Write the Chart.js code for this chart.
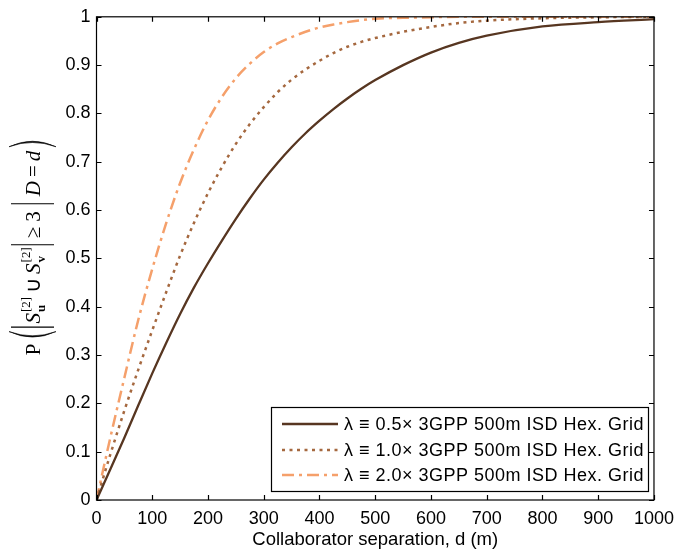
<!DOCTYPE html>
<html>
<head>
<meta charset="utf-8">
<script src="https://cdn.jsdelivr.net/npm/chart.js@4.4.1/dist/chart.umd.min.js"></script>
<style>
  html, body { margin: 0; padding: 0; background: #ffffff; }
  #wrap { width: 682px; height: 551px; }
</style>
</head>
<body>
<div id="wrap"><canvas id="c" width="682" height="551"></canvas></div>
<script>
// ---- data ----
const distances = [0, 25, 50, 75, 100, 125, 150, 175, 200, 225, 250, 275, 300, 325, 350, 375, 400, 425, 450, 475, 500, 550, 600, 650, 700, 800, 900, 1000];
const probHalf  = [0, 0.064, 0.129, 0.196, 0.262, 0.325, 0.385, 0.440, 0.490, 0.537, 0.582, 0.624, 0.663, 0.698, 0.730, 0.759, 0.785, 0.809, 0.831, 0.851, 0.869, 0.900, 0.926, 0.946, 0.961, 0.980, 0.989, 0.995];
const probOne   = [0, 0.095, 0.185, 0.270, 0.351, 0.430, 0.506, 0.574, 0.635, 0.689, 0.737, 0.778, 0.813, 0.844, 0.870, 0.891, 0.909, 0.925, 0.938, 0.948, 0.956, 0.969, 0.979, 0.987, 0.992, 0.997, 0.999, 1.000];
const probTwo   = [0, 0.130, 0.253, 0.373, 0.478, 0.573, 0.656, 0.726, 0.786, 0.834, 0.873, 0.903, 0.927, 0.945, 0.958, 0.969, 0.978, 0.984, 0.989, 0.993, 0.996, 0.998, 0.999, 1.000, 1.000, 1.000, 1.000, 1.000];
const seriesLabels = [
  "\u03bb \u2261 0.5\u00d7 3GPP 500m ISD Hex. Grid",
  "\u03bb \u2261 1.0\u00d7 3GPP 500m ISD Hex. Grid",
  "\u03bb \u2261 2.0\u00d7 3GPP 500m ISD Hex. Grid"
];
const xTicks = [0, 100, 200, 300, 400, 500, 600, 700, 800, 900, 1000];
const yTicks = [0, 0.1, 0.2, 0.3, 0.4, 0.5, 0.6, 0.7, 0.8, 0.9, 1];
const xTitle = "Collaborator separation, d (m)";

const colors = ["#573621", "#a5683f", "#f5a06b"];
const dashes = [[], [3, 4.5], [12, 5, 3, 5]];

function pts(ys) { return distances.map((d, i) => ({x: d, y: ys[i]})); }

const sansFont = "'Liberation Sans', Arial, Helvetica, sans-serif";
const serifFont = "'Liberation Serif', 'Times New Roman', serif";

const decorPlugin = {
  id: 'decor',
  afterDatasetsDraw(chart) {
    const {ctx, chartArea: a, scales} = chart;
    const xs = scales.x, ys = scales.y;
    ctx.save();
    ctx.strokeStyle = '#000';
    ctx.lineWidth = 1.2;
    ctx.strokeRect(a.left, a.top, a.right - a.left, a.bottom - a.top);
    const tl = 5;
    ctx.beginPath();
    xTicks.forEach(v => {
      const px = Math.round(xs.getPixelForValue(v)) + 0.5;
      ctx.moveTo(px, a.bottom); ctx.lineTo(px, a.bottom - tl);
      ctx.moveTo(px, a.top); ctx.lineTo(px, a.top + tl);
    });
    yTicks.forEach(v => {
      const py = Math.round(ys.getPixelForValue(v)) + 0.5;
      ctx.moveTo(a.left, py); ctx.lineTo(a.left + tl, py);
      ctx.moveTo(a.right, py); ctx.lineTo(a.right - tl, py);
    });
    ctx.stroke();

    // legend
    const lx = 271.5, ly = 407.5, lw = 377, lh = 84;
    ctx.fillStyle = '#fff';
    ctx.fillRect(lx, ly, lw, lh);
    ctx.lineWidth = 1.2;
    ctx.strokeStyle = '#000';
    ctx.strokeRect(lx, ly, lw, lh);
    const rows = [424, 450, 475];
    chart.data.datasets.forEach((ds, i) => {
      ctx.save();
      ctx.strokeStyle = ds.borderColor;
      ctx.lineWidth = ds.borderWidth;
      ctx.setLineDash(ds.borderDash || []);
      ctx.beginPath();
      ctx.moveTo(282, rows[i]); ctx.lineTo(338, rows[i]);
      ctx.stroke();
      ctx.restore();
      ctx.save();
      ctx.fillStyle = '#000';
      ctx.font = "18px " + sansFont;
      try { ctx.letterSpacing = '0.5px'; } catch (e) {}
      ctx.textBaseline = 'middle';
      ctx.textAlign = 'left';
      ctx.fillText(ds.label, 344, rows[i] + 1);
      ctx.restore();
    });

    // y-axis title (math expression), rotated
    ctx.save();
    ctx.translate(33, 247);
    ctx.rotate(-Math.PI / 2);
    ctx.fillStyle = '#000';
    ctx.strokeStyle = '#000';
    ctx.textBaseline = 'alphabetic';
    const base = 21;
    const rf = base + 'px ' + serifFont;
    const itf = 'italic ' + base + 'px ' + serifFont;
    const parts = [
      {t: 'P', f: rf},
      {gap: 4},
      {paren: 'L'},
      {gap: 2},
      {bar: true},
      {gap: 2},
      {t: 'S', f: itf, sup: '[2]', sub: 'u'},
      {gap: 4},
      {t: '\u222a', f: rf},
      {gap: 4},
      {t: 'S', f: itf, sup: '[2]', sub: 'v'},
      {gap: 1},
      {bar: true},
      {gap: 5},
      {t: '\u2265', f: rf},
      {gap: 5},
      {t: '3', f: rf},
      {gap: 6},
      {bar: true},
      {gap: 6},
      {t: 'D', f: itf},
      {gap: 4},
      {t: '=', f: rf},
      {gap: 4},
      {t: 'd', f: itf},
      {gap: 3},
      {paren: 'R'}
    ];
    const scriptF = '13px ' + serifFont;
    const scriptB = 'bold 13px ' + serifFont;
    function widthOf(p) {
      if (p.gap) return p.gap;
      if (p.bar) return 3;
      if (p.paren) return 9;
      ctx.font = p.f;
      let w = ctx.measureText(p.t).width;
      if (p.sup) {
        ctx.font = scriptF;
        const ws = ctx.measureText(p.sup).width;
        ctx.font = scriptB;
        const wb = ctx.measureText(p.sub).width;
        w += Math.max(ws, wb) + 1;
      }
      return w;
    }
    const total = parts.reduce((s, p) => s + widthOf(p), 0);
    let x = -total / 2;
    const by = 7;
    parts.forEach(p => {
      const w = widthOf(p);
      if (p.gap) { x += p.gap; return; }
      if (p.bar) {
        ctx.lineWidth = 1.1;
        ctx.beginPath();
        ctx.moveTo(x + 1.5, -22); ctx.lineTo(x + 1.5, 21);
        ctx.stroke();
        x += w; return;
      }
      if (p.paren) {
        const top = -24, bot = 23, mid = (top + bot) / 2;
        ctx.beginPath();
        if (p.paren === 'L') {
          ctx.moveTo(x + 8, top);
          ctx.quadraticCurveTo(x - 3, mid, x + 8, bot);
          ctx.quadraticCurveTo(x - 0.5, mid, x + 8, top);
        } else {
          ctx.moveTo(x + 1, top);
          ctx.quadraticCurveTo(x + 12, mid, x + 1, bot);
          ctx.quadraticCurveTo(x + 9.5, mid, x + 1, top);
        }
        ctx.fill();
        ctx.lineWidth = 0.6;
        ctx.stroke();
        x += w; return;
      }
      ctx.font = p.f;
      ctx.fillText(p.t, x, by);
      if (p.sup) {
        const sw = ctx.measureText(p.t).width;
        ctx.font = scriptF;
        ctx.fillText(p.sup, x + sw + 1, by - 10);
        ctx.font = scriptB;
        ctx.fillText(p.sub, x + sw + 1, by + 5);
      }
      x += w;
    });
    ctx.restore();
    ctx.restore();
  }
};

new Chart(document.getElementById('c'), {
  type: 'line',
  data: {
    datasets: [
      {label: seriesLabels[0], data: pts(probHalf), borderColor: colors[0], borderWidth: 2.3, borderDash: dashes[0]},
      {label: seriesLabels[1], data: pts(probOne), borderColor: colors[1], borderWidth: 2.5, borderDash: dashes[1]},
      {label: seriesLabels[2], data: pts(probTwo), borderColor: colors[2], borderWidth: 2.5, borderDash: dashes[2]}
    ].map(d => Object.assign(d, {fill: false, pointRadius: 0, cubicInterpolationMode: 'monotone', borderCapStyle: 'butt'}))
  },
  options: {
    responsive: false,
    animation: false,
    devicePixelRatio: 1,
    layout: {padding: {left: 0, right: 25, top: 12, bottom: 0}},
    plugins: {legend: {display: false}, tooltip: {enabled: false}},
    scales: {
      x: {
        type: 'linear', min: 0, max: 1000,
        afterBuildTicks(s) { s.ticks = xTicks.map(v => ({value: v})); },
        afterFit(s) { s.height = 51; },
        grid: {display: false, drawTicks: false},
        border: {display: false},
        ticks: {color: '#000', font: {size: 18, family: sansFont}, padding: 8, maxRotation: 0, autoSkip: false,
          callback: v => String(v)},
        title: {display: true, text: xTitle, color: '#000', font: {size: 18.5, family: sansFont}, padding: {top: 0, bottom: 0}}
      },
      y: {
        type: 'linear', min: 0, max: 1,
        afterBuildTicks(s) { s.ticks = yTicks.map(v => ({value: v})); },
        afterFit(s) { s.width = 96.5; },
        grid: {display: false, drawTicks: false},
        border: {display: false},
        ticks: {color: '#000', font: {size: 18, family: sansFont}, padding: 6, autoSkip: false,
          callback: v => String(Math.round(v * 10) / 10)}
      }
    }
  },
  plugins: [decorPlugin]
});
</script>
</body>
</html>
